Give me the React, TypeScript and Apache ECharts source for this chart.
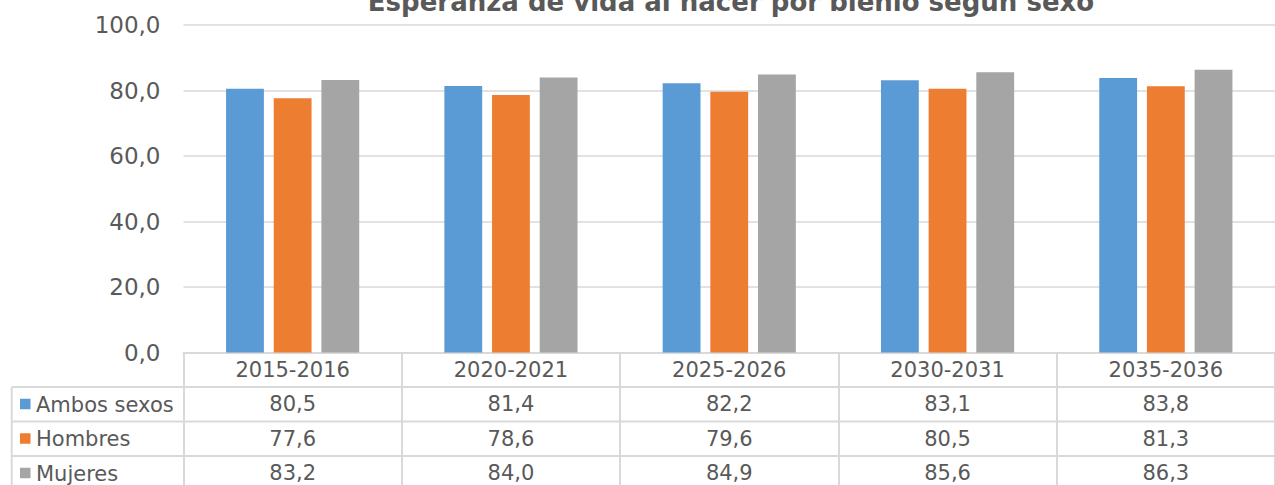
import React, { useEffect, useRef } from "react";
import * as echarts from "echarts";

const titleText = "Esperanza de vida al nacer por bienio según sexo";
const categories = ["2015-2016", "2020-2021", "2025-2026", "2030-2031", "2035-2036"];
const seriesNames = ["Ambos sexos", "Hombres", "Mujeres"];
const ambos = [80.5, 81.4, 82.2, 83.1, 83.8];
const hombres = [77.6, 78.6, 79.6, 80.5, 81.3];
const mujeres = [83.2, 84.0, 84.9, 85.6, 86.3];
const colors = ["#5B9BD5", "#ED7D31", "#A5A5A5"];
const yTicks = { min: 0, max: 100, interval: 20 };

const fmt = (v: number) => v.toFixed(1).replace(".", ",");

export default function App() {
  const ref = useRef<HTMLDivElement>(null);
  useEffect(() => {
    if (!ref.current) return;
    const chart = echarts.init(ref.current, undefined, { renderer: "svg" });
    const values = [ambos, hombres, mujeres];
    const font = "DejaVu Sans, Verdana, sans-serif";
    const textColor = "#595959";
    const lineColor = "#D9D9D9";
    const gridLeft = 183.5;
    const axisY = 352.5;
    const rowH = 34.5;
    const tableLeft = 11.7;
    const rowLines = values.map((_, i) => ({
      type: "line",
      silent: true,
      shape: { x1: tableLeft, y1: axisY + rowH * (i + 1), x2: 1280, y2: axisY + rowH * (i + 1) },
      style: { stroke: lineColor, lineWidth: 2 },
    }));
    const legendItems = seriesNames.flatMap((name, i) => {
      const cy = axisY + rowH * (i + 1) + rowH / 2;
      return [
        {
          type: "rect",
          silent: true,
          shape: { x: 20, y: cy - 5.5, width: 10.5, height: 10.5 },
          style: { fill: colors[i] },
        },
        {
          type: "text",
          silent: true,
          x: 36,
          y: cy + 0.5,
          style: {
            text: name,
            fontFamily: font,
            fontSize: 21,
            fill: textColor,
            align: "left",
            verticalAlign: "middle",
          },
        },
      ];
    });
    chart.setOption({
      animation: false,
      textStyle: { fontFamily: font },
      title: {
        text: titleText,
        left: 726,
        top: -16,
        textAlign: "center",
        textStyle: { fontFamily: font, fontSize: 26, fontWeight: "bold", color: textColor },
      },
      grid: { left: gridLeft, top: 25, width: 1102.5, bottom: 485 - axisY, containLabel: false },
      xAxis: {
        type: "category",
        data: categories,
        axisLine: { show: true, lineStyle: { color: lineColor, width: 2 } },
        axisTick: { show: true, length: 140, lineStyle: { color: lineColor, width: 2 } },
        axisLabel: {
          interval: 0,
          margin: 0,
          formatter: (val: string, idx: number) =>
            [`{c|${val}}`, ...values.map((s) => `{v|${fmt(s[idx])}}`)].join("\n"),
          rich: {
            c: { fontFamily: font, fontSize: 21, color: textColor, lineHeight: rowH },
            v: { fontFamily: font, fontSize: 21, color: textColor, lineHeight: rowH },
          },
        },
      },
      yAxis: {
        type: "value",
        min: yTicks.min,
        max: yTicks.max,
        interval: yTicks.interval,
        axisLine: { show: false },
        axisTick: { show: false },
        axisLabel: {
          margin: 23,
          fontFamily: font,
          fontSize: 23,
          color: textColor,
          formatter: (v: number) => fmt(v),
        },
        splitLine: { lineStyle: { color: lineColor, width: 1.5 } },
      },
      series: values.map((data, i) => ({
        name: seriesNames[i],
        type: "bar",
        data,
        itemStyle: { color: colors[i] },
        barGap: "26%",
        barCategoryGap: "39%",
      })),
      graphic: [
        ...rowLines,
        {
          type: "line",
          silent: true,
          shape: { x1: tableLeft, y1: axisY + rowH, x2: tableLeft, y2: 490 },
          style: { stroke: lineColor, lineWidth: 2 },
        },
        ...legendItems,
      ],
    });
    return () => chart.dispose();
  }, []);
  return (
    <div
      ref={ref}
      style={{ position: "fixed", left: 0, top: 0, width: 1275, height: 485, background: "#fff" }}
    />
  );
}
